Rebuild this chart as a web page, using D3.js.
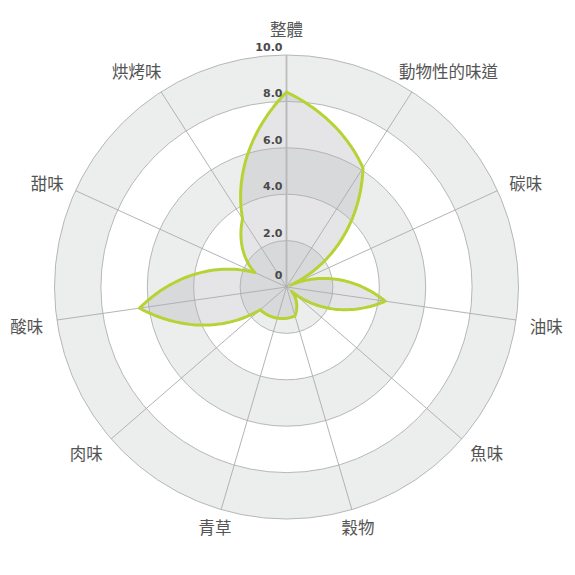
<!DOCTYPE html>
<html>
<head>
<meta charset="utf-8">
<script src="https://cdn.jsdelivr.net/npm/d3@7"></script>
<style>
  body { margin: 0; background: #fff; }
  svg { display: block; }
  .axis-label { font-family: "Noto Sans CJK TC", "Noto Sans CJK SC", sans-serif; font-size: 16.5px; fill: #555; }
  .tick-label { font-family: "DejaVu Sans", sans-serif; font-weight: bold; font-size: 11px; fill: #4a4a4a; }
</style>
</head>
<body>
<svg id="chart" width="575" height="575"></svg>
<script>
// flavour axes, clockwise from the top
const axes = ['整體', '動物性的味道', '碳味', '油味', '魚味', '穀物', '青草', '肉味', '酸味', '甜味', '烘烤味'];
const scores = [8.4, 6.1, 0.2, 4.3, 0.3, 1.3, 1.4, 1.5, 6.4, 1.5, 3.5];
const ticks = [0, 2, 4, 6, 8, 10];
const tickLabels = ['0', '2.0', '4.0', '6.0', '8.0', '10.0'];

const cx = 286.5, cy = 287, outer = 232;
const svg = d3.select('#chart');
const g = svg.append('g').attr('transform', `translate(${cx},${cy})`);

const r = d3.scaleLinear().domain([0, 10]).range([0, outer]);
const angle = d3.scaleLinear().domain([0, axes.length]).range([0, 2 * Math.PI]);

// alternating bands, biggest first
g.selectAll('circle.band')
    .data(ticks.slice(1).reverse())
    .enter()
    .append('circle')
    .attr('class', 'band')
    .attr('r', d => r(d))
    .attr('fill', d => (d / 2) % 2 === 1 ? '#eceded' : '#fff')
    .attr('stroke', '#b7b7b7')
    .attr('stroke-width', 1);

// spokes
g.selectAll('line.spoke')
    .data(axes)
    .enter()
    .append('line')
    .attr('class', 'spoke')
    .attr('x1', 0).attr('y1', 0)
    .attr('x2', (d, i) => r(10) * Math.sin(angle(i)))
    .attr('y2', (d, i) => -r(10) * Math.cos(angle(i)))
    .attr('stroke', (d, i) => i === 0 ? '#bcbcbc' : '#ababab')
    .attr('stroke-width', (d, i) => i === 0 ? 1.8 : 0.9);

// the outline is drawn with angle and value both eased between neighbours
let pts = [];
scores.forEach((v, i) => {
    const j = (i + 1) % scores.length;
    const a0 = angle(i), a1 = angle(i + 1);
    d3.range(0, 1, 1 / 40).forEach(t => {
        pts.push([a0 + (a1 - a0) * t, v + (scores[j] - v) * t]);
    });
});

const radial = d3.lineRadial()
    .angle(d => d[0])
    .radius(d => r(d[1]))
    .curve(d3.curveLinearClosed);

g.append('path')
    .attr('d', radial(pts))
    .attr('fill', 'rgb(173,175,181)')
    .attr('fill-opacity', 0.32)
    .attr('stroke', '#b5d334')
    .attr('stroke-width', 3)
    .attr('stroke-linejoin', 'round');

// scale numbers on the top spoke
g.selectAll('text.tick-label')
    .data(ticks)
    .enter()
    .append('text')
    .attr('class', 'tick-label')
    .attr('text-anchor', 'end')
    .attr('x', -4)
    .attr('y', d => d === 0 ? -8 : -r(d) - 4)
    .text((d, i) => tickLabels[i]);

// axis names
const labels = g.selectAll('text.axis-label')
    .data(axes)
    .enter()
    .append('text')
    .attr('class', 'axis-label')
    .attr('dominant-baseline', 'central')
    .text(d => d);

labels.each(function(d, i) {
    const a = angle(i);
    const s = Math.sin(a), c = Math.cos(a);
    const w = this.getComputedTextLength();
    const px = (outer + 22) * s;
    const py = -(outer + 22) * c - 4 * Math.abs(c) + 4 * s * s;
    let f = 0.5;
    if (Math.abs(s) > 0.3) f = s > 0 ? 0.25 : 0.75;
    d3.select(this)
        .attr('x', px - w * f)
        .attr('y', py);
});
</script>
</body>
</html>
